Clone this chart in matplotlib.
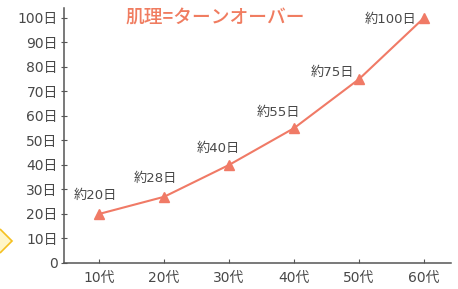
import matplotlib
matplotlib.use('Agg')
import matplotlib.pyplot as plt
from matplotlib.patches import Polygon

plt.rcParams['font.family'] = ['DejaVu Sans', 'Noto Sans CJK JP']

ages = ['10代', '20代', '30代', '40代', '50代', '60代']
days = [20, 27, 40, 55, 75, 100]
day_labels = ['約20日', '約28日', '約40日', '約55日', '約75日', '約100日']
y_ticks = [0, 10, 20, 30, 40, 50, 60, 70, 80, 90, 100]
y_tick_labels = ['0'] + ['{}日'.format(v) for v in y_ticks[1:]]
title = '肌理=ターンオーバー'

line_col = '#f07a66'
text_col = '#484848'

fig = plt.figure(figsize=(4.58, 2.89), dpi=100)
ax = fig.add_axes([64 / 458, 26 / 289, 387 / 458, 255 / 289])

x = list(range(len(ages)))
ax.plot(x, days, color=line_col, lw=1.5, marker='^', ms=6.5, mec=line_col, mfc=line_col)

# label offsets (points) for each data label
offsets = [(-3, 13), (-6.5, 13), (-8, 11.5), (-11, 11), (-19.5, 4.5), (-24, -1.5)]
for xi, yi, lab, off in zip(x, days, day_labels, offsets):
    ax.annotate(lab, (xi, yi), xytext=off, textcoords='offset points',
                ha='center', va='center', fontsize=9.5, color=text_col)

ax.set_xlim(-0.54, 5.415)
ax.set_ylim(0, 104)
ax.set_xticks(x)
ax.set_xticklabels(ages)
ax.set_yticks(y_ticks)
ax.set_yticklabels(y_tick_labels)

for s in ['top', 'right']:
    ax.spines[s].set_visible(False)
for s in ['left', 'bottom']:
    ax.spines[s].set_color('#555555')
    ax.spines[s].set_linewidth(1.1)

ax.tick_params(axis='y', direction='inout', length=5, width=0.8, colors='#555555',
               labelcolor=text_col, labelsize=10, pad=2)
ax.tick_params(axis='x', direction='in', length=3, width=0.8, colors='#555555',
               labelcolor=text_col, labelsize=10, pad=6)

fig.text(215 / 458, 1 - 18.5 / 289, title, ha='center', va='center',
         fontsize=13.5, color='#f07c60', fontfamily=['Noto Sans CJK JP'], fontweight='medium')

# yellow chevron at the left edge
chev = Polygon([(0, 1 - 229 / 289), (12 / 458, 1 - 241 / 289), (0, 1 - 253 / 289)],
               closed=False, facecolor='#fff6c8', edgecolor='#f5c020', lw=1.2,
               transform=fig.transFigure)
fig.add_artist(chev)

fig.savefig('out.png', dpi=100, facecolor='white')
